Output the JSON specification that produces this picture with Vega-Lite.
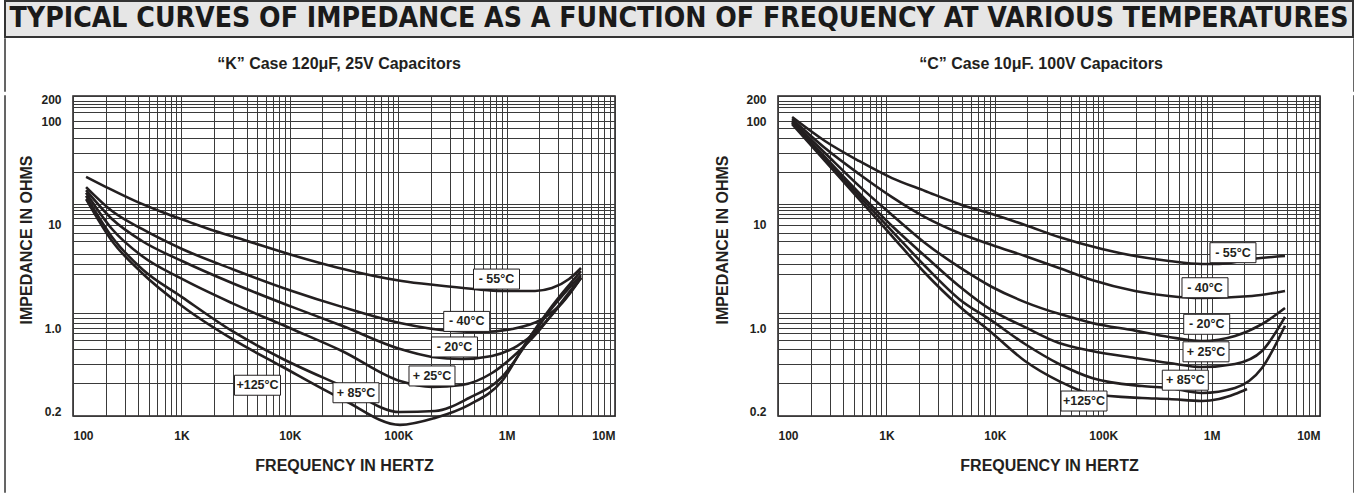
{
  "$schema": "https://vega.github.io/schema/vega-lite/v6.json",
  "background": "white",
  "padding": {"left": 4, "top": 0, "right": 0, "bottom": 0},
  "config": {
    "font": "Liberation Sans",
    "view": {"stroke": "#231f20", "strokeWidth": 1.5},
    "axis": {"domain": false, "ticks": false, "tickSize": 0, "grid": true, "gridColor": "#3a3a3a", "gridWidth": 1, "gridOpacity": 1,
      "labelFont": "Liberation Sans", "labelFontSize": 12, "labelFontWeight": "bold", "labelColor": "#231f20", "labelOverlap": false,
      "titleFont": "Liberation Sans", "titleFontSize": 16, "titleFontWeight": "bold", "titleColor": "#231f20"}
  },
  "datasets": {
    "k": [
      {"t":"-55","f":132,"z":28.8},{"t":"-55","f":202,"z":23.0},{"t":"-55","f":373,"z":16.9},{"t":"-55","f":662,"z":13.2},{"t":"-55","f":1175,"z":10.6},{"t":"-55","f":2042,"z":8.65},{"t":"-55","f":3780,"z":7.09},{"t":"-55","f":10480,"z":5.07},{"t":"-55","f":26100,"z":3.89},{"t":"-55","f":108000,"z":2.85},{"t":"-55","f":218000,"z":2.60},{"t":"-55","f":500000,"z":2.38},{"t":"-55","f":907000,"z":2.28},{"t":"-55","f":1830000,"z":2.28},{"t":"-55","f":2620000,"z":2.43},{"t":"-55","f":3770000,"z":2.97},{"t":"-55","f":4860000,"z":3.80},
      {"t":"-40","f":132,"z":23.0},{"t":"-40","f":229,"z":13.5},{"t":"-40","f":433,"z":9.05},{"t":"-40","f":1013,"z":5.80},{"t":"-40","f":2931,"z":3.72},{"t":"-40","f":10480,"z":2.28},{"t":"-40","f":30300,"z":1.60},{"t":"-40","f":103900,"z":1.12},{"t":"-40","f":313600,"z":0.947},{"t":"-40","f":593000,"z":0.929},{"t":"-40","f":1121000,"z":0.982},{"t":"-40","f":2121000,"z":1.22},{"t":"-40","f":3245000,"z":1.74},{"t":"-40","f":4857000,"z":3.04},
      {"t":"-20","f":132,"z":21.5},{"t":"-20","f":229,"z":11.3},{"t":"-20","f":433,"z":6.93},{"t":"-20","f":1013,"z":4.44},{"t":"-20","f":2931,"z":2.72},{"t":"-20","f":10480,"z":1.60},{"t":"-20","f":30300,"z":1.05},{"t":"-20","f":103900,"z":0.681},{"t":"-20","f":205000,"z":0.589},{"t":"-20","f":387700,"z":0.567},{"t":"-20","f":733500,"z":0.599},{"t":"-20","f":1247000,"z":0.719},{"t":"-20","f":1908000,"z":0.947},{"t":"-20","f":2916000,"z":1.53},{"t":"-20","f":4857000,"z":3.04},
      {"t":"25","f":132,"z":20.3},{"t":"25","f":229,"z":9.05},{"t":"25","f":433,"z":4.96},{"t":"25","f":1013,"z":2.98},{"t":"25","f":2931,"z":1.74},{"t":"25","f":10480,"z":0.982},{"t":"25","f":30300,"z":0.657},{"t":"25","f":103900,"z":0.379},{"t":"25","f":205000,"z":0.340},{"t":"25","f":387700,"z":0.353},{"t":"25","f":733500,"z":0.439},{"t":"25","f":1247000,"z":0.633},{"t":"25","f":1908000,"z":0.913},{"t":"25","f":2916000,"z":1.56},{"t":"25","f":4857000,"z":3.1},
      {"t":"85","f":132,"z":18.9},{"t":"85","f":229,"z":7.57},{"t":"85","f":433,"z":3.72},{"t":"85","f":1013,"z":1.99},{"t":"85","f":2931,"z":0.947},{"t":"85","f":8296,"z":0.578},{"t":"85","f":30300,"z":0.346},{"t":"85","f":103900,"z":0.215},{"t":"85","f":218500,"z":0.219},{"t":"85","f":450000,"z":0.278},{"t":"85","f":907000,"z":0.408},{"t":"85","f":1543000,"z":0.760},{"t":"85","f":2623000,"z":1.56},{"t":"85","f":4857000,"z":3.25},
      {"t":"125","f":132,"z":17.6},{"t":"125","f":229,"z":6.93},{"t":"125","f":433,"z":3.40},{"t":"125","f":1013,"z":1.63},{"t":"125","f":2931,"z":0.818},{"t":"125","f":8296,"z":0.499},{"t":"125","f":30300,"z":0.273},{"t":"125","f":103900,"z":0.170},{"t":"125","f":218500,"z":0.193},{"t":"125","f":450000,"z":0.245},{"t":"125","f":907000,"z":0.379},{"t":"125","f":1543000,"z":0.788},{"t":"125","f":2623000,"z":1.63},{"t":"125","f":4857000,"z":3.55}
    ],
    "c": [
      {"t":"-55","f":135,"z":111.7},{"t":"-55","f":271,"z":64.1},{"t":"-55","f":559,"z":41.1},{"t":"-55","f":1127,"z":28.1},{"t":"-55","f":2271,"z":21.1},{"t":"-55","f":4674,"z":15.8},{"t":"-55","f":9424,"z":12.6},{"t":"-55","f":18990,"z":9.89},{"t":"-55","f":39110,"z":7.57},{"t":"-55","f":97480,"z":5.80},{"t":"-55","f":196500,"z":4.96},{"t":"-55","f":404600,"z":4.44},{"t":"-55","f":815300,"z":4.15},{"t":"-55","f":1170000,"z":4.15},{"t":"-55","f":2359000,"z":4.64},{"t":"-55","f":4755000,"z":4.96},
      {"t":"-40","f":135,"z":105.7},{"t":"-40","f":271,"z":54.8},{"t":"-40","f":559,"z":30.8},{"t":"-40","f":1127,"z":18.4},{"t":"-40","f":2271,"z":11.8},{"t":"-40","f":4674,"z":8.28},{"t":"-40","f":9424,"z":6.34},{"t":"-40","f":18990,"z":4.96},{"t":"-40","f":39110,"z":3.80},{"t":"-40","f":78830,"z":2.91},{"t":"-40","f":196500,"z":2.28},{"t":"-40","f":404600,"z":2.04},{"t":"-40","f":815300,"z":1.95},{"t":"-40","f":2359000,"z":2.04},{"t":"-40","f":4755000,"z":2.28},
      {"t":"-20","f":135,"z":100},{"t":"-20","f":271,"z":49.1},{"t":"-20","f":559,"z":23.6},{"t":"-20","f":1127,"z":12.36},{"t":"-20","f":2271,"z":6.63},{"t":"-20","f":4674,"z":3.89},{"t":"-20","f":9424,"z":2.49},{"t":"-20","f":18990,"z":1.78},{"t":"-20","f":39110,"z":1.37},{"t":"-20","f":78830,"z":1.12},{"t":"-20","f":196500,"z":0.953},{"t":"-20","f":404600,"z":0.848},{"t":"-20","f":815300,"z":0.788},{"t":"-20","f":1644000,"z":0.864},{"t":"-20","f":2916000,"z":1.09},{"t":"-20","f":4755000,"z":1.56},
      {"t":"25","f":135,"z":97.8},{"t":"25","f":271,"z":44.9},{"t":"25","f":559,"z":20.2},{"t":"25","f":1127,"z":9.67},{"t":"25","f":2271,"z":4.96},{"t":"25","f":4674,"z":2.55},{"t":"25","f":9424,"z":1.48},{"t":"25","f":18990,"z":1.02},{"t":"25","f":39110,"z":0.760},{"t":"25","f":78830,"z":0.657},{"t":"25","f":196500,"z":0.578},{"t":"25","f":404600,"z":0.527},{"t":"25","f":815300,"z":0.490},{"t":"25","f":1644000,"z":0.518},{"t":"25","f":2916000,"z":0.657},{"t":"25","f":4755000,"z":1.28},
      {"t":"85","f":135,"z":95.7},{"t":"85","f":271,"z":42.9},{"t":"85","f":559,"z":18.9},{"t":"85","f":1127,"z":8.65},{"t":"85","f":2271,"z":3.97},{"t":"85","f":4674,"z":1.91},{"t":"85","f":9424,"z":1.17},{"t":"85","f":18990,"z":0.746},{"t":"85","f":39110,"z":0.518},{"t":"85","f":78830,"z":0.401},{"t":"85","f":228000,"z":0.346},{"t":"85","f":404600,"z":0.334},{"t":"85","f":815300,"z":0.305},{"t":"85","f":1644000,"z":0.334},{"t":"85","f":2916000,"z":0.481},{"t":"85","f":4755000,"z":1.05},
      {"t":"125","f":135,"z":93.5},{"t":"125","f":271,"z":41.1},{"t":"125","f":559,"z":17.6},{"t":"125","f":1127,"z":7.74},{"t":"125","f":2271,"z":3.40},{"t":"125","f":4674,"z":1.63},{"t":"125","f":9424,"z":0.913},{"t":"125","f":18990,"z":0.547},{"t":"125","f":39110,"z":0.379},{"t":"125","f":78830,"z":0.299},{"t":"125","f":228000,"z":0.278},{"t":"125","f":404600,"z":0.273},{"t":"125","f":815300,"z":0.263},{"t":"125","f":1170000,"z":0.273},{"t":"125","f":1644000,"z":0.299},{"t":"125","f":2121000,"z":0.328}
    ],
    "kl": [
      {"label":"- 55°C","f":807000,"z":2.97},{"label":"- 40°C","f":428500,"z":1.158},{"label":"- 20°C","f":330500,"z":0.707},
      {"label":"+ 25°C","f":205000,"z":0.416},{"label":"+ 85°C","f":40800,"z":0.306},{"label":"+125°C","f":5035,"z":0.351}
    ],
    "cl": [
      {"label":"- 55°C","f":1574000,"z":5.34},{"label":"- 40°C","f":869000,"z":2.45},{"label":"- 20°C","f":901000,"z":1.086},
      {"label":"+ 25°C","f":888000,"z":0.647},{"label":"+ 85°C","f":572000,"z":0.385},{"label":"+125°C","f":66500,"z":0.263}
    ],
    "bar": [{"txt":"TYPICAL CURVES OF IMPEDANCE AS A FUNCTION OF FREQUENCY AT VARIOUS TEMPERATURES"}],
    "hk": [{"txt":"“K” Case 120μF, 25V Capacitors"}],
    "hc": [{"txt":"“C” Case 10μF. 100V Capacitors"}],
    "blank": []
  },
  "spacing": 0,
  "vconcat": [
    {
      "width": 1348, "height": 36,
      "view": {"fill": "#e6e6e6", "stroke": "#333333", "strokeWidth": 2},
      "data": {"name": "bar"},
      "mark": {"type": "text", "font": "DejaVu Sans Condensed, DejaVu Sans", "fontSize": 28.2, "fontWeight": "bold", "color": "#1a1a1a"},
      "encoding": {"text": {"field": "txt"}}
    },
    {
      "bounds": "flush", "spacing": 0,
      "hconcat": [
        {"width": 0.01, "height": 52, "view": {"stroke": "#333333", "strokeWidth": 1.5, "fill": null}, "data": {"name": "blank"}, "mark": "text", "encoding": {"text": {"field": "txt"}}},
        {"width": 67, "height": 52, "view": {"stroke": null}, "data": {"name": "blank"}, "mark": "text", "encoding": {"text": {"field": "txt"}}},
        {"width": 542, "height": 52, "view": {"stroke": null}, "data": {"name": "hk"},
         "mark": {"type": "text", "font": "Liberation Sans", "fontSize": 16, "fontWeight": "bold", "color": "#231f20", "dy": -1, "dx": -5}, "encoding": {"text": {"field": "txt"}}},
        {"width": 163, "height": 52, "view": {"stroke": null}, "data": {"name": "blank"}, "mark": "text", "encoding": {"text": {"field": "txt"}}},
        {"width": 542, "height": 52, "view": {"stroke": null}, "data": {"name": "hc"},
         "mark": {"type": "text", "font": "Liberation Sans", "fontSize": 16, "fontWeight": "bold", "color": "#231f20", "dy": -1, "dx": -8}, "encoding": {"text": {"field": "txt"}}},
        {"width": 34, "height": 52, "view": {"stroke": null}, "data": {"name": "blank"}, "mark": "text", "encoding": {"text": {"field": "txt"}}},
        {"width": 0.01, "height": 52, "view": {"stroke": "#333333", "strokeWidth": 1.5, "fill": null}, "data": {"name": "blank"}, "mark": "text", "encoding": {"text": {"field": "txt"}}}
      ]
    },
    {
      "bounds": "flush", "spacing": 0,
      "hconcat": [
        {"width": 0.01, "height": 396, "view": {"stroke": "#333333", "strokeWidth": 1.5, "fill": null}, "data": {"name": "blank"}, "mark": "text", "encoding": {"text": {"field": "txt"}}},
        {"width": 67, "height": 396, "view": {"stroke": null}, "data": {"name": "blank"}, "mark": "text", "encoding": {"text": {"field": "txt"}}},
        {
          "width": 542, "height": 320,
          "layer": [
            {
              "data": {"name": "k"},
              "mark": {"type": "line", "interpolate": "monotone", "strokeWidth": 2.6, "color": "#231f20"},
              "encoding": {
                "x": {"field": "f", "type": "quantitative",
                  "scale": {"type": "log", "domain": [100, 10000000], "nice": false},
                  "axis": {"title": "FREQUENCY IN HERTZ", "labelPadding": 14, "titlePadding": 16, "labelFlush": true,
                    "values": [100,200,300,400,500,600,700,800,900,1000,2000,3000,4000,5000,6000,7000,8000,9000,10000,20000,30000,40000,50000,60000,70000,80000,90000,100000,200000,300000,400000,500000,600000,700000,800000,900000,1000000,2000000,3000000,4000000,5000000,6000000,7000000,8000000,9000000,10000000],
                    "labelExpr": "datum.value==100?'100':datum.value==1000?'1K':datum.value==10000?'10K':datum.value==100000?'100K':datum.value==1000000?'1M':datum.value==10000000?'10M':''"}},
                "y": {"field": "z", "type": "quantitative",
                  "scale": {"type": "log", "domain": [0.2, 1, 100, 200], "range": [320, 232, 25, 0], "nice": false, "zero": false},
                  "axis": {"title": "IMPEDANCE IN OHMS", "labelPadding": 12, "titlePadding": 6.5, "titleY": 143.5, "labelFlush": true, "labelFlushOffset": 2,
                    "values": [0.2,0.366,0.518,0.681,0.803,0.913,1,1.12,1.25,1.4,3.32,4.15,5.19,6.93,8.28,10,11.6,12.6,13.8,14.8,15.8,32.2,49.1,68.5,85.6,100,128,147,160,174,200],
                    "labelExpr": "datum.value==200?'200':datum.value==100?'100':datum.value==10?'10':datum.value==1?'1.0':datum.value==0.2?'0.2':''"}},
                "detail": {"field": "t"}
              }
            },
            {
              "data": {"name": "kl"},
              "mark": {"type": "rect", "width": 46, "height": 20, "fill": "white", "stroke": "#231f20", "strokeWidth": 1},
              "encoding": {"x": {"field": "f", "type": "quantitative"}, "y": {"field": "z", "type": "quantitative"}}
            },
            {
              "data": {"name": "kl"},
              "mark": {"type": "text", "font": "Liberation Sans", "fontSize": 12.5, "fontWeight": "bold", "color": "#231f20"},
              "encoding": {"x": {"field": "f", "type": "quantitative"}, "y": {"field": "z", "type": "quantitative"}, "text": {"field": "label"}}
            }
          ]
        },
        {"width": 163, "height": 396, "view": {"stroke": null}, "data": {"name": "blank"}, "mark": "text", "encoding": {"text": {"field": "txt"}}},
        {
          "width": 542, "height": 320,
          "layer": [
            {
              "data": {"name": "c"},
              "mark": {"type": "line", "interpolate": "monotone", "strokeWidth": 2.6, "color": "#231f20"},
              "encoding": {
                "x": {"field": "f", "type": "quantitative",
                  "scale": {"type": "log", "domain": [100, 10000000], "nice": false},
                  "axis": {"title": "FREQUENCY IN HERTZ", "labelPadding": 14, "titlePadding": 16, "labelFlush": true,
                    "values": [100,200,300,400,500,600,700,800,900,1000,2000,3000,4000,5000,6000,7000,8000,9000,10000,20000,30000,40000,50000,60000,70000,80000,90000,100000,200000,300000,400000,500000,600000,700000,800000,900000,1000000,2000000,3000000,4000000,5000000,6000000,7000000,8000000,9000000,10000000],
                    "labelExpr": "datum.value==100?'100':datum.value==1000?'1K':datum.value==10000?'10K':datum.value==100000?'100K':datum.value==1000000?'1M':datum.value==10000000?'10M':''"}},
                "y": {"field": "z", "type": "quantitative",
                  "scale": {"type": "log", "domain": [0.2, 1, 100, 200], "range": [320, 232, 25, 0], "nice": false, "zero": false},
                  "axis": {"title": "IMPEDANCE IN OHMS", "labelPadding": 12, "titlePadding": 15.5, "titleY": 143.5, "labelFlush": true, "labelFlushOffset": 2,
                    "values": [0.2,0.366,0.518,0.681,0.803,0.913,1,1.12,1.25,1.4,3.32,4.15,5.19,6.93,8.28,10,11.6,12.6,13.8,14.8,15.8,32.2,49.1,68.5,85.6,100,128,147,160,174,200],
                    "labelExpr": "datum.value==200?'200':datum.value==100?'100':datum.value==10?'10':datum.value==1?'1.0':datum.value==0.2?'0.2':''"}},
                "detail": {"field": "t"}
              }
            },
            {
              "data": {"name": "cl"},
              "mark": {"type": "rect", "width": 46, "height": 20, "fill": "white", "stroke": "#231f20", "strokeWidth": 1},
              "encoding": {"x": {"field": "f", "type": "quantitative"}, "y": {"field": "z", "type": "quantitative"}}
            },
            {
              "data": {"name": "cl"},
              "mark": {"type": "text", "font": "Liberation Sans", "fontSize": 12.5, "fontWeight": "bold", "color": "#231f20"},
              "encoding": {"x": {"field": "f", "type": "quantitative"}, "y": {"field": "z", "type": "quantitative"}, "text": {"field": "label"}}
            }
          ]
        },
        {"width": 34, "height": 396, "view": {"stroke": null}, "data": {"name": "blank"}, "mark": "text", "encoding": {"text": {"field": "txt"}}},
        {"width": 0.01, "height": 396, "view": {"stroke": "#333333", "strokeWidth": 1.5, "fill": null}, "data": {"name": "blank"}, "mark": "text", "encoding": {"text": {"field": "txt"}}}
      ]
    },
    {"width": 1348, "height": 0.01, "view": {"stroke": "#333333", "strokeWidth": 1.5, "fill": null},
     "data": {"name": "blank"}, "mark": "text", "encoding": {"text": {"field": "txt"}}}
  ]
}
